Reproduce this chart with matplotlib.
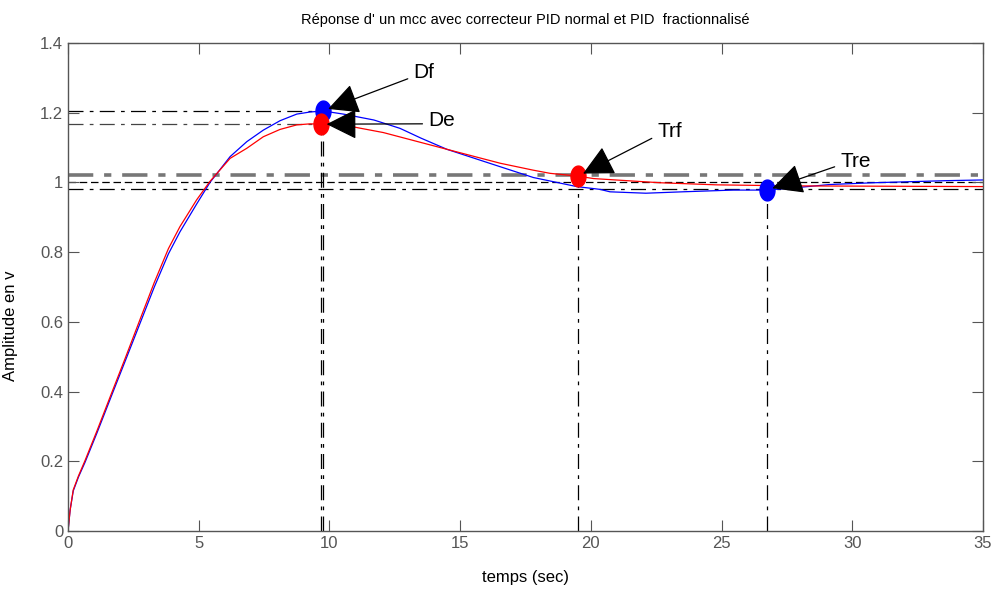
import numpy as np
import matplotlib
matplotlib.use('Agg')
import matplotlib.pyplot as plt
from matplotlib.path import Path

plt.rcParams['font.family'] = ['Liberation Sans', 'DejaVu Sans']

# Réponse PID fractionnalisé (bleu)
t_bleu = [0, 0.08, 0.2, 0.4, 0.65, 1.1, 1.7, 2.2, 2.75, 3.3, 3.84, 4.28,
          4.92, 5.43, 6.20, 6.84, 7.47, 8.11, 8.75, 9.26, 9.75, 10.53, 11.7, 12.7, 13.5,
          14.49, 16.53, 17.8, 19.46, 20.35, 20.73, 22.1, 23.5, 25.45, 26.74, 27.86, 29.15,
          30.8, 33.6, 35]
y_bleu = [0, 0.06, 0.115, 0.155, 0.197, 0.28, 0.395, 0.49, 0.595, 0.70, 0.795, 0.858,
          0.938, 1.000, 1.074, 1.117, 1.150, 1.177, 1.196, 1.202, 1.205, 1.196, 1.179, 1.155, 1.127,
          1.095, 1.045, 1.014, 0.988, 0.980, 0.973, 0.969, 0.973, 0.978, 0.978, 0.985, 0.994,
          0.999, 1.005, 1.007]

# Réponse PID normal (rouge)
t_rouge = [0, 0.08, 0.2, 0.4, 0.65, 1.1, 1.7, 2.2, 2.75, 3.3, 3.84, 4.28,
           4.92, 5.43, 6.20, 6.84, 7.47, 8.11, 8.75, 9.26, 9.68, 10.15, 11.0, 12.06, 14.49,
           16.53, 17.8, 18.44, 19.51, 20.1, 21.37, 22.65, 24.8, 27.75, 35]
y_rouge = [0, 0.06, 0.118, 0.158, 0.202, 0.286, 0.402, 0.498, 0.606, 0.713, 0.81, 0.873,
           0.950, 1.003, 1.069, 1.098, 1.131, 1.152, 1.165, 1.168, 1.167, 1.168, 1.158, 1.143, 1.095,
           1.055, 1.035, 1.026, 1.018, 1.011, 1.005, 0.999, 0.993, 0.990, 0.988]

# Points caractéristiques : dépassements et temps de réponse
noms_points = ['Df', 'De', 'Trf', 'Tre']
x_points = [9.75, 9.68, 19.51, 26.74]
y_points = [1.205, 1.167, 1.018, 0.978]
couleurs_points = ['blue', 'red', 'red', 'blue']

# Consigne et bande de +/- 2 %
consigne = 1.0
bande_haute = 1.02
bande_basse = 0.98

fig = plt.figure(figsize=(9.96, 6.01), dpi=100)
ax = fig.add_axes([0.0683, 0.1165, 0.9187, 0.812])

# Marqueur ellipse (plus haut que large)
theta = np.linspace(0, 2 * np.pi, 60)
ellipse = Path(np.column_stack([0.72 * np.cos(theta), np.sin(theta)]))

# Lignes de repère horizontales
ax.axhline(bande_haute, color='#777777', lw=2.6, dashes=(7, 3, 2, 3), zorder=1)
ax.axhline(consigne, color='black', lw=0.9, dashes=(6, 3), zorder=1)
ax.axhline(bande_basse, color='black', lw=0.9, dashes=(12, 5, 3, 5), zorder=1)
ax.plot([0, x_points[0]], [y_points[0], y_points[0]], color='black', lw=0.9,
        dashes=(12, 5, 3, 5), zorder=1)
ax.plot([0, x_points[1]], [y_points[1], y_points[1]], color='#444444', lw=0.9,
        dashes=(12, 5, 3, 5), zorder=1)

# Lignes de repère verticales
for xp, yp in zip(x_points, y_points):
    ax.plot([xp, xp], [0, yp], color='black', lw=0.9, dashes=(12, 5, 3, 5), zorder=1)

# Réponses
ax.plot(t_bleu, y_bleu, color='blue', lw=0.9, zorder=2)
ax.plot(t_rouge, y_rouge, color='red', lw=0.9, zorder=2)

# Points et flèches
pos_textes = [(13.2, 1.314), (13.77, 1.179), (22.53, 1.145), (29.53, 1.061)]
for nom, xp, yp, c, pos in zip(noms_points, x_points, y_points, couleurs_points, pos_textes):
    ax.plot(xp, yp, marker=ellipse, markersize=15, color=c, linestyle='', zorder=3)
    ax.annotate(nom, xy=(xp, yp), xytext=pos, fontsize=15, ha='left', va='center',
                arrowprops=dict(arrowstyle='-|>,head_length=1.2,head_width=0.6', color='black',
                                lw=0.9, relpos=(0, 0.3), shrinkA=2, shrinkB=4,
                                mutation_scale=16), zorder=4)

ax.set_xlim(0, 35)
ax.set_ylim(0, 1.4)
ax.set_xticks([0, 5, 10, 15, 20, 25, 30, 35])
ax.set_yticks([0, 0.2, 0.4, 0.6, 0.8, 1.0, 1.2, 1.4])
ax.set_yticklabels(['0', '0.2', '0.4', '0.6', '0.8', '1', '1.2', '1.4'])
ax.tick_params(direction='in', top=True, right=True, labelsize=12, colors='#555555',
               length=8, width=0.8)
for s in ax.spines.values():
    s.set_color('#555555')
    s.set_linewidth(1.0)

ax.set_title("Réponse d' un mcc avec correcteur PID normal et PID  fractionnalisé",
             fontsize=10.5, pad=14)
ax.set_xlabel('temps (sec)', fontsize=12, labelpad=14)
ax.set_ylabel('Amplitude en v', fontsize=12)
ax.yaxis.set_label_coords(-0.055, 0.42)

fig.savefig('out.png', dpi=100)
